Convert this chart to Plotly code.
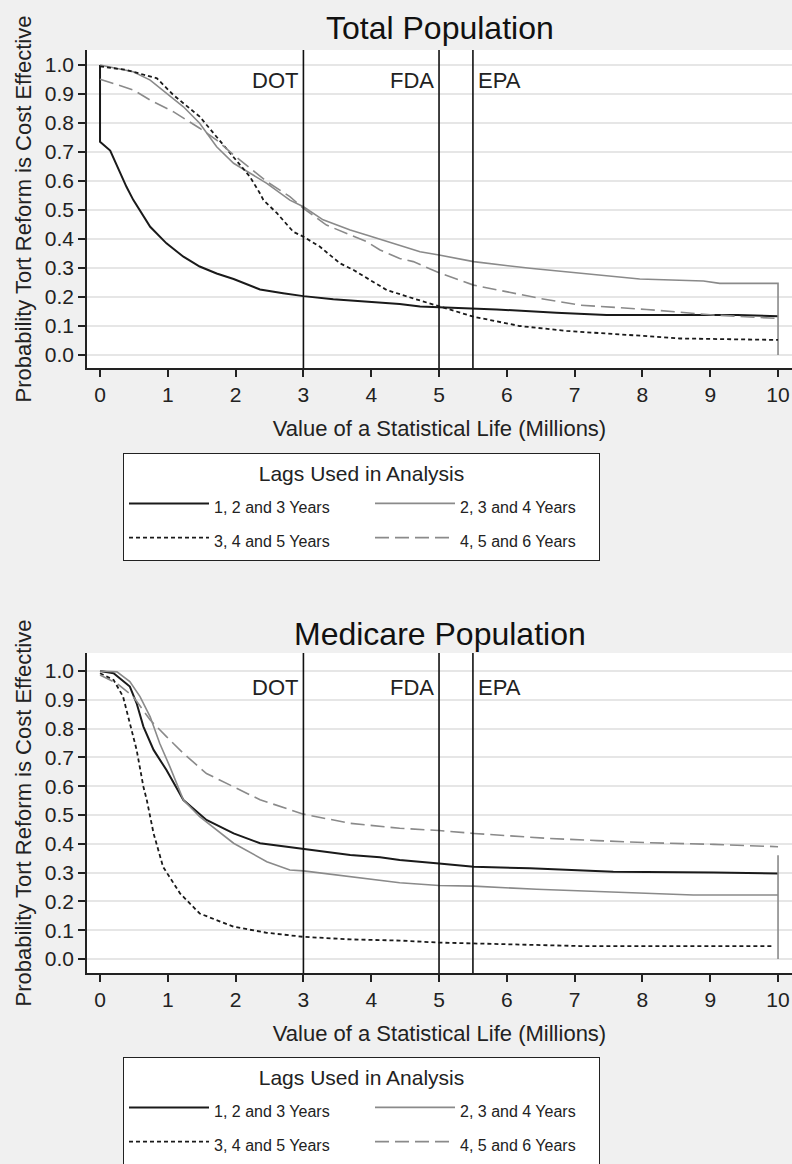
import plotly.graph_objects as go

FONT = "Liberation Sans, Arial, sans-serif"

# ---------------- data ----------------
series_names = ["1, 2 and 3 Years", "2, 3 and 4 Years", "3, 4 and 5 Years", "4, 5 and 6 Years"]
x_ticks = [0, 1, 2, 3, 4, 5, 6, 7, 8, 9, 10]
y_ticks = [0.0, 0.1, 0.2, 0.3, 0.4, 0.5, 0.6, 0.7, 0.8, 0.9, 1.0]
agencies = ["DOT", "FDA", "EPA"]
agency_vsl = [3, 5, 5.5]
panel_titles = ["Total Population", "Medicare Population"]

# Total population
tot_a_x = [0, 0, 0.15, 0.29, 0.39, 0.49, 0.74, 0.98, 1.23, 1.47, 1.72, 1.97, 2.36, 2.70, 3.0, 3.44, 3.93, 4.42, 4.72, 5.0, 5.85, 6.73, 7.47, 9.4, 10]
tot_a_y = [1.0, 0.735, 0.705, 0.63, 0.58, 0.535, 0.442, 0.385, 0.339, 0.305, 0.281, 0.262, 0.226, 0.213, 0.203, 0.192, 0.184, 0.176, 0.167, 0.165, 0.157, 0.146, 0.138, 0.138, 0.134]

tot_b_x = [0, 0.49, 0.74, 0.98, 1.23, 1.47, 1.72, 1.97, 2.21, 2.46, 2.80, 3.0, 3.29, 3.69, 3.93, 4.42, 4.72, 5.0, 5.51, 6.34, 7.18, 7.96, 8.9, 9.14, 10, 10]
tot_b_y = [1.0, 0.977, 0.948, 0.902, 0.856, 0.799, 0.718, 0.661, 0.626, 0.592, 0.534, 0.511, 0.466, 0.431, 0.414, 0.379, 0.356, 0.345, 0.322, 0.299, 0.279, 0.262, 0.255, 0.247, 0.247, 0.0]

tot_c_x = [0, 0.39, 0.84, 1.08, 1.47, 1.72, 1.97, 2.21, 2.36, 2.41, 2.61, 2.85, 3.0, 3.24, 3.54, 3.74, 3.98, 4.23, 4.62, 5.0, 5.51, 6.19, 6.88, 8.01, 8.55, 10]
tot_c_y = [0.995, 0.983, 0.954, 0.897, 0.822, 0.753, 0.684, 0.615, 0.557, 0.534, 0.489, 0.425, 0.408, 0.374, 0.316, 0.293, 0.259, 0.224, 0.195, 0.167, 0.132, 0.100, 0.083, 0.066, 0.057, 0.052]

tot_d_x = [0, 0.49, 0.74, 1.08, 1.47, 1.72, 1.97, 2.21, 2.46, 2.80, 3.0, 3.34, 3.69, 3.93, 4.13, 4.42, 4.62, 5.0, 5.51, 6.49, 7.08, 8.06, 9.05, 10]
tot_d_y = [0.951, 0.914, 0.879, 0.839, 0.782, 0.741, 0.690, 0.644, 0.598, 0.546, 0.506, 0.448, 0.414, 0.391, 0.362, 0.333, 0.322, 0.284, 0.241, 0.195, 0.172, 0.157, 0.138, 0.126]

# Medicare population
med_a_x = [0, 0.2, 0.44, 0.54, 0.64, 0.79, 0.98, 1.23, 1.57, 1.97, 2.36, 3.0, 3.69, 4.13, 4.42, 5.0, 5.51, 6.34, 6.93, 7.57, 9.05, 10]
med_a_y = [1.0, 0.992, 0.946, 0.888, 0.807, 0.726, 0.656, 0.552, 0.483, 0.436, 0.402, 0.381, 0.361, 0.353, 0.344, 0.332, 0.320, 0.315, 0.309, 0.303, 0.300, 0.297]

med_b_x = [0, 0.25, 0.44, 0.59, 0.74, 0.88, 1.03, 1.23, 1.47, 1.97, 2.46, 2.80, 3.0, 3.69, 4.13, 4.42, 5.0, 5.51, 6.44, 7.08, 8.16, 8.75, 10, 10, 10]
med_b_y = [1.0, 0.997, 0.963, 0.911, 0.841, 0.749, 0.668, 0.552, 0.494, 0.402, 0.338, 0.309, 0.306, 0.286, 0.274, 0.265, 0.255, 0.253, 0.242, 0.237, 0.228, 0.222, 0.222, 0.36, 0.0]

med_c_x = [0, 0.2, 0.34, 0.44, 0.54, 0.64, 0.69, 0.79, 0.93, 1.18, 1.47, 1.97, 2.46, 3.0, 3.69, 4.42, 5.0, 7.08, 9.93]
med_c_y = [0.992, 0.969, 0.911, 0.818, 0.726, 0.598, 0.552, 0.436, 0.320, 0.228, 0.158, 0.112, 0.091, 0.077, 0.068, 0.064, 0.057, 0.045, 0.045]

med_d_x = [0, 0.25, 0.49, 0.74, 0.98, 1.23, 1.57, 1.97, 2.36, 3.0, 3.69, 4.42, 5.0, 5.51, 6.59, 7.33, 8.06, 9.05, 10]
med_d_y = [0.986, 0.957, 0.911, 0.830, 0.772, 0.714, 0.644, 0.598, 0.553, 0.503, 0.471, 0.454, 0.446, 0.436, 0.419, 0.411, 0.404, 0.398, 0.390]

# ---------------- styles ----------------
BLACK = "#1a1a1a"
GRAY = "#8a8a8a"
line_styles = [
    dict(color=BLACK, width=2.0, dash="solid"),
    dict(color=GRAY, width=1.6, dash="solid"),
    dict(color=BLACK, width=1.8, dash="4px,3px"),
    dict(color=GRAY, width=1.6, dash="14px,6px"),
]
entry_widths = [151, 134, 151, 134]  # second legend column a bit narrower

W, H = 792, 1164
ML = 87
PW = W - ML
fig = go.Figure()

panels = [
    (["x", "y", "legend"], [(tot_a_x, tot_a_y), (tot_b_x, tot_b_y), (tot_c_x, tot_c_y), (tot_d_x, tot_d_y)]),
    (["x2", "y2", "legend2"], [(med_a_x, med_a_y), (med_b_x, med_b_y), (med_c_x, med_c_y), (med_d_x, med_d_y)]),
]
for (xa, ya, lg), data in panels:
    for name, (xs, ys), st, ew in zip(series_names, data, line_styles, entry_widths):
        fig.add_trace(go.Scatter(
            x=xs, y=ys, mode="lines", line=st,
            name="<span style='font-size:16px'>" + name + "</span>",
            legendwidth=ew,
            xaxis=xa, yaxis=ya, legend=lg, hoverinfo="skip",
        ))

x_rng = [-0.192, 10.206]
axis_common = dict(
    showline=True, linecolor="#222", linewidth=1.5,
    ticks="outside", ticklen=7, tickwidth=1.5, tickcolor="#222",
    tickfont=dict(family=FONT, size=21, color="#222"),
    zeroline=False, fixedrange=True,
)
xaxis_common = dict(axis_common, range=x_rng, domain=[0, 1], tickvals=x_ticks, showgrid=False,
                    title=dict(text="Value of a Statistical Life (Millions)",
                               font=dict(family=FONT, size=22, color="#222"), standoff=16))
yaxis_common = dict(axis_common, tickvals=y_ticks, tickformat=".1f", showgrid=True,
                    gridcolor="#e6e6e6", gridwidth=1.5,
                    title=dict(text="Probability Tort Reform is Cost Effective",
                               font=dict(family=FONT, size=22, color="#222"), standoff=7))

top_dom = [1 - 368 / H, 1 - 50 / H]
bot_dom = [1 - 973 / H, 1 - 653 / H]

legend_common = dict(
    orientation="h", xanchor="left", yanchor="top",
    bgcolor="white", bordercolor="#222", borderwidth=1,
    font=dict(family=FONT, size=24, color="#222"),
    itemwidth=80, entrywidth=151, traceorder="normal",
    itemclick=False, itemdoubleclick=False,
    title=dict(text="Lags Used in Analysis", side="top center",
               font=dict(family=FONT, size=21, color="#222")),
)

shapes = []
annotations = []
for xr, yr, yval in [("x", "y", 0.945), ("x2", "y2", 0.944)]:
    for ag, v in zip(agencies, agency_vsl):
        shapes.append(dict(type="line", xref=xr, yref=yr + " domain", x0=v, x1=v, y0=0, y1=1,
                           line=dict(color="#111", width=1.6), layer="above"))
        left = ag != "EPA"
        annotations.append(dict(text=ag, xref=xr, yref=yr, x=v, y=yval, showarrow=False,
                                xanchor="right" if left else "left", yanchor="middle",
                                xshift=-3 if left else 3,
                                font=dict(family=FONT, size=22, color="#222")))

for txt, yc in zip(panel_titles, [28, 634]):
    annotations.append(dict(text=txt, xref="paper", yref="paper", x=0.5, y=1 - yc / H,
                            showarrow=False, xanchor="center", yanchor="middle",
                            font=dict(family=FONT, size=32, color="#111")))

fig.update_layout(
    width=W, height=H,
    margin=dict(l=ML, r=0, t=0, b=0, autoexpand=False),
    paper_bgcolor="#f0f0f0", plot_bgcolor="white",
    showlegend=True,
    xaxis=dict(xaxis_common, anchor="y"),
    yaxis=dict(yaxis_common, domain=top_dom, range=[-0.0448, 1.0517], anchor="x"),
    xaxis2=dict(xaxis_common, anchor="y2"),
    yaxis2=dict(yaxis_common, domain=bot_dom, range=[-0.0486, 1.0625], anchor="x2"),
    legend=dict(legend_common, x=(123 - ML) / PW, y=1 - 453 / H),
    legend2=dict(legend_common, x=(123 - ML) / PW, y=1 - 1057 / H),
    shapes=shapes,
    annotations=annotations,
)

fig.write_html("out.html")
